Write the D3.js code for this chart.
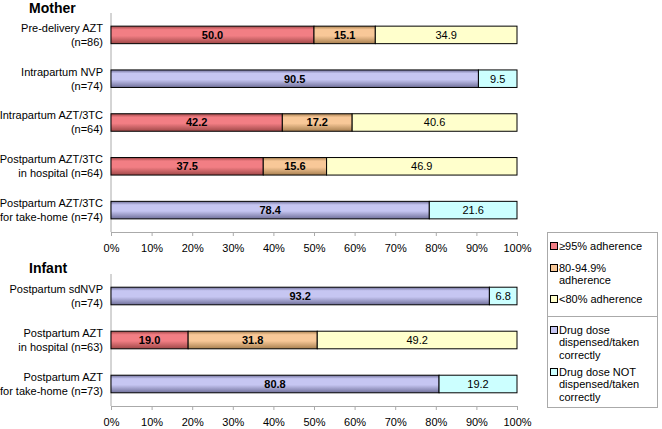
<!DOCTYPE html>
<html>
<head>
<meta charset="utf-8">
<script src="https://cdn.jsdelivr.net/npm/d3@7"></script>
<style>
body { margin: 0; background: #fff; }
svg { font-family: "Liberation Sans", Arial, sans-serif; }
</style>
</head>
<body>
<svg></svg>
<script>
const width = 662;
const height = 429;

// data
const motherLabels = [
    ["Pre-delivery AZT", "(n=86)"],
    ["Intrapartum NVP", "(n=74)"],
    ["Intrapartum AZT/3TC", "(n=64)"],
    ["Postpartum AZT/3TC", "in hospital (n=64)"],
    ["Postpartum AZT/3TC", "for take-home (n=74)"]
];
const motherValues = [
    [["hi", 50.0], ["mid", 15.1], ["lo", 34.9]],
    [["ok", 90.5], ["not", 9.5]],
    [["hi", 42.2], ["mid", 17.2], ["lo", 40.6]],
    [["hi", 37.5], ["mid", 15.6], ["lo", 46.9]],
    [["ok", 78.4], ["not", 21.6]]
];
const infantLabels = [
    ["Postpartum sdNVP", "(n=74)"],
    ["Postpartum AZT", "in hospital (n=63)"],
    ["Postpartum AZT", "for take-home (n=73)"]
];
const infantValues = [
    [["ok", 93.2], ["not", 6.8]],
    [["hi", 19.0], ["mid", 31.8], ["lo", 49.2]],
    [["ok", 80.8], ["not", 19.2]]
];
const ticks = [0, 10, 20, 30, 40, 50, 60, 70, 80, 90, 100];
const legendItems = [
    ["hi", ["≥95% adherence"]],
    ["mid", ["80-94.9%", "adherence"]],
    ["lo", ["<80% adherence"]],
    ["ok", ["Drug dose", "dispensed/taken", "correctly"]],
    ["not", ["Drug dose NOT", "dispensed/taken", "correctly"]]
];

const colors = {
    hi:  { mid: "#f27e84", edge: "#a04848", bold: true },
    mid: { mid: "#f8c898", edge: "#a88050", bold: true },
    lo:  { mid: "#ffffcc", edge: "#ffffcc", bold: false },
    ok:  { mid: "#c6c6f2", edge: "#70709a", bold: true },
    not: { mid: "#ccffff", edge: "#ccffff", bold: false }
};

let svg = d3.select("svg")
    .attr("width", width)
    .attr("height", height);

let defs = svg.append("defs");
Object.keys(colors).forEach(k => {
    let g = defs.append("linearGradient")
        .attr("id", "grad-" + k)
        .attr("x1", 0).attr("y1", 0).attr("x2", 0).attr("y2", 1);
    g.append("stop").attr("offset", "0%").attr("stop-color", colors[k].edge);
    g.append("stop").attr("offset", "20%").attr("stop-color", colors[k].mid);
    g.append("stop").attr("offset", "55%").attr("stop-color", colors[k].mid);
    g.append("stop").attr("offset", "100%").attr("stop-color", colors[k].edge);
});

const x = d3.scaleLinear().domain([0, 100]).range([111, 517]);

function drawPanel(title, labels, values, top, bottom, titleY) {
    let panel = svg.append("g");

    panel.append("text")
        .attr("x", 29)
        .attr("y", titleY)
        .style("font-size", "14px")
        .style("font-weight", "bold")
        .text(title);

    const y = d3.scaleBand()
        .domain(d3.range(labels.length))
        .range([top, bottom])
        .paddingInner(0.6)
        .paddingOuter(0.3);

    // left axis line
    panel.append("line")
        .attr("x1", x(0)).attr("x2", x(0))
        .attr("y1", top).attr("y2", bottom)
        .style("stroke", "#aaa");

    // bottom axis
    let axis = panel.append("g")
        .attr("transform", `translate(0,${bottom})`)
        .call(d3.axisBottom(x).tickValues(ticks).tickSize(4).tickFormat(d => d + "%"));
    axis.select(".domain").style("stroke", "#aaa");
    axis.selectAll(".tick line").style("stroke", "#aaa");
    axis.selectAll(".tick text")
        .attr("dy", "0.71em")
        .attr("y", 12)
        .style("font-size", "11px")
        .style("font-family", "Liberation Sans, Arial, sans-serif")
        .style("fill", "#000");

    values.forEach((row, i) => {
        let start = 0;
        let cy = y(i) + y.bandwidth() / 2;
        let rowG = panel.append("g");
        row.forEach(([key, v]) => {
            rowG.append("rect")
                .attr("x", x(start))
                .attr("y", y(i))
                .attr("width", x(start + v) - x(start))
                .attr("height", y.bandwidth())
                .style("fill", `url(#grad-${key})`)
                .style("stroke", "#000")
                .style("stroke-width", 1);
            rowG.append("text")
                .attr("x", (x(start) + x(start + v)) / 2)
                .attr("y", cy)
                .attr("dy", "0.36em")
                .attr("text-anchor", "middle")
                .style("font-size", "11px")
                .style("font-weight", colors[key].bold ? "bold" : "normal")
                .text(v.toFixed(1));
            start += v;
        });

        let lab = panel.append("text")
            .attr("text-anchor", "end")
            .style("font-size", "11px");
        labels[i].forEach((line, j) => {
            lab.append("tspan")
                .attr("x", 103)
                .attr("y", cy - 7 + j * 14)
                .attr("dy", "0.36em")
                .text(line);
        });
    });
}

drawPanel("Mother", motherLabels, motherValues, 13, 232, 13);
drawPanel("Infant", infantLabels, infantValues, 274, 406, 273);

// legend
let legend = svg.append("g");
legend.append("rect")
    .attr("x", 547.5).attr("y", 232.5)
    .attr("width", 110).attr("height", 175)
    .style("fill", "#fff")
    .style("stroke", "#aaa");
legend.append("line")
    .attr("x1", 547.5).attr("x2", 657.5)
    .attr("y1", 316.5).attr("y2", 316.5)
    .style("stroke", "#aaa");

const legendY = [246, 268, 299, 330, 372];
legendItems.forEach(([key, lines], i) => {
    let yy = legendY[i];
    legend.append("rect")
        .attr("x", 550.5).attr("y", yy - 3.5)
        .attr("width", 7).attr("height", 7)
        .style("fill", colors[key].mid)
        .style("stroke", "#000");
    let t = legend.append("text").style("font-size", "11px");
    lines.forEach((line, j) => {
        t.append("tspan")
            .attr("x", 559)
            .attr("y", yy + j * 12.5)
            .attr("dy", "0.36em")
            .text(line);
    });
});
</script>
</body>
</html>
